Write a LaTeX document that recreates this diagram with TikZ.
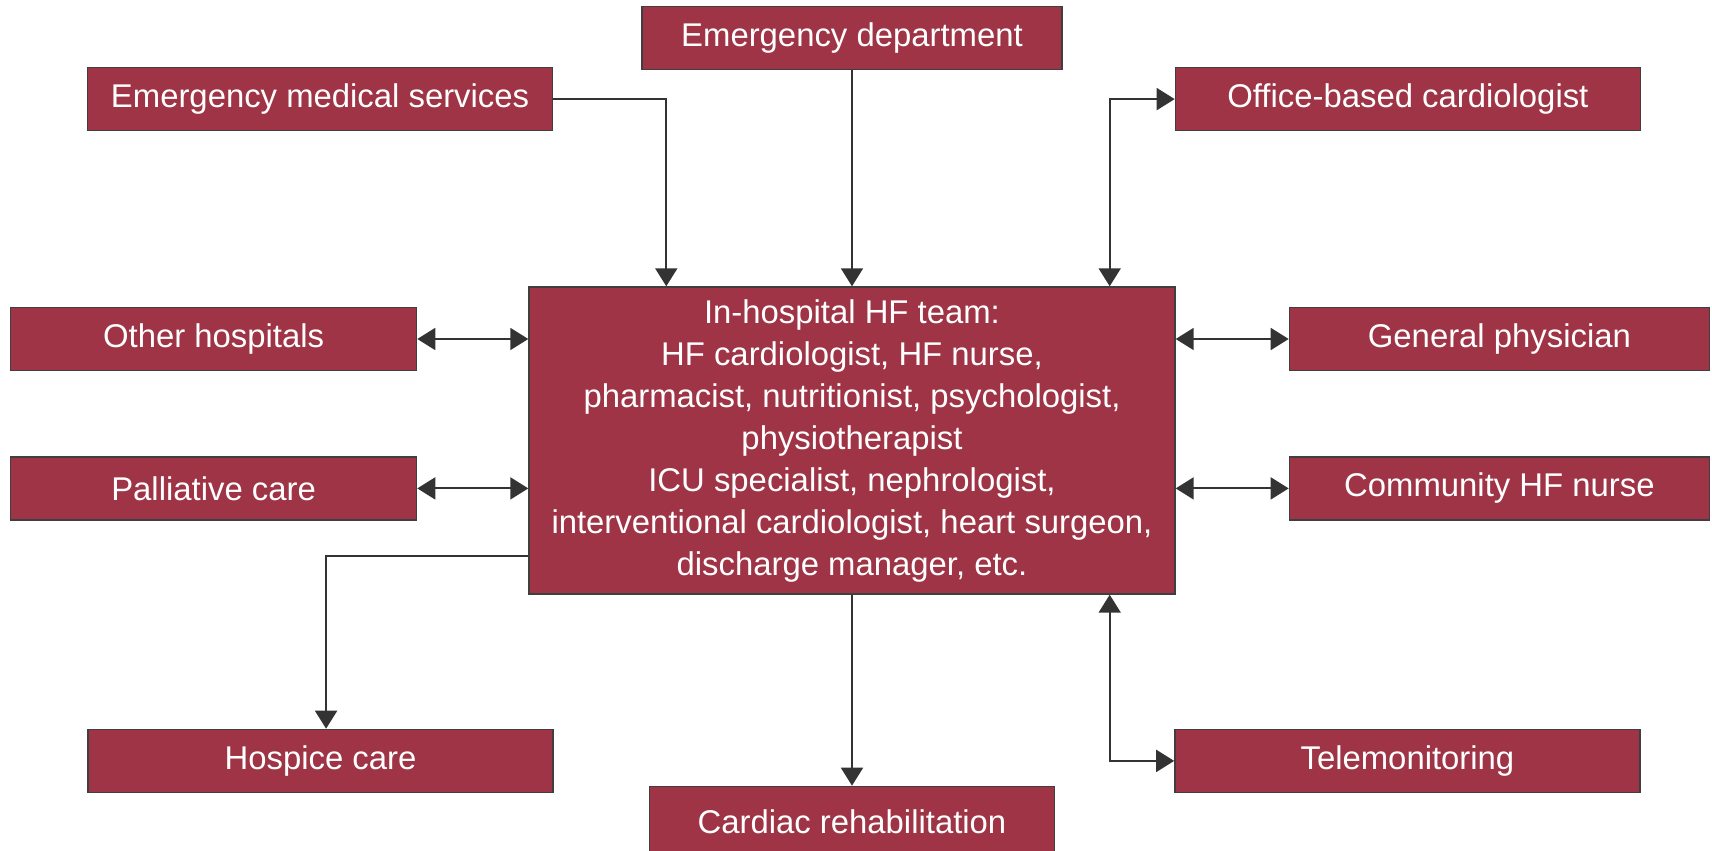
\documentclass[tikz,border=0pt]{standalone}
\usepackage{fontspec}
\setmainfont{Liberation Sans}
\usepackage{xcolor}
\usepackage{tikz}
\usetikzlibrary{positioning, arrows.meta}
\definecolor{boxred}{HTML}{9E3445}
\definecolor{boxline}{HTML}{3F3F3F}
\definecolor{arrowgray}{HTML}{333333}

\begin{document}
\begin{tikzpicture}[
        node distance=1cm,
        box/.style={rectangle, minimum height=1.26cm, inner sep=0pt, text centered, draw=boxline, line width=0.8pt, fill=boxred, text=white, font=\fontsize{18.7pt}{23.7pt}\selectfont},
        arrow/.style={line width=1.1pt, draw=arrowgray, -{Triangle[length=0.36cm, width=0.44cm]}},
        twoway/.style={line width=1.1pt, draw=arrowgray, {Triangle[length=0.36cm, width=0.44cm]}-{Triangle[length=0.36cm, width=0.44cm]}}
    ]
        \useasboundingbox (-17.04,-8.19) rectangle (17.20,8.81);

        % ===== HF team =====
        \node (team) [box, minimum width=12.92cm, minimum height=6.14cm, align=center, font=\fontsize{18.7pt}{23.9pt}\selectfont, text depth=0.12cm] {In-hospital HF team:\\HF cardiologist, HF nurse,\\pharmacist, nutritionist, psychologist,\\physiotherapist\\ICU specialist, nephrologist,\\interventional cardiologist, heart surgeon,\\discharge manager, etc.};

        % ===== top row =====
        \node (ed) [box, minimum width=8.4cm, above=4.32cm of team] {Emergency department};
        \node (ems) [box, minimum width=9.3cm, left=1.76cm of ed, yshift=-1.22cm] {Emergency medical services};
        \node (office) [box, minimum width=9.3cm, right=2.24cm of ed, yshift=-1.22cm] {Office-based cardiologist};

        % ===== sides =====
        \node (other) [box, minimum width=8.12cm, left=2.22cm of team, yshift=2.03cm] {Other hospitals};
        \node (palliative) [box, minimum width=8.12cm, below=1.7cm of other] {Palliative care};
        \node (general) [box, minimum width=8.4cm, right=2.26cm of team, yshift=2.03cm] {General physician};
        \node (community) [box, minimum width=8.4cm, below=1.7cm of general] {Community HF nurse};

        % ===== bottom row =====
        \node (rehab) [box, minimum width=8.1cm, minimum height=1.4cm, below=3.82cm of team] {Cardiac rehabilitation};
        \node (hospice) [box, minimum width=9.3cm, left=1.9cm of rehab, yshift=1.21cm] {Hospice care};
        \node (tele) [box, minimum width=9.3cm, right=2.38cm of rehab, yshift=1.21cm] {Telemonitoring};

        % ===== arrows =====
        % into the team
        \draw [arrow] (ems.east) -| ([xshift=2.76cm]team.north west);
        \draw [arrow] (ed.south) -- (team.north);
        \draw [twoway] (office.west) -| ([xshift=-1.32cm]team.north east);

        % both ways
        \draw [twoway] (other.east) -- (other.east -| team.west);
        \draw [twoway] (palliative.east) -- (palliative.east -| team.west);
        \draw [twoway] (general.west) -- (general.west -| team.east);
        \draw [twoway] (community.west) -- (community.west -| team.east);

        % out of the team
        \draw [arrow] ([yshift=0.78cm]team.south west) -| ([xshift=0.11cm]hospice.north);
        \draw [arrow] (team.south) -- (rehab.north);
        \draw [twoway] (tele.west) -| ([xshift=-1.32cm]team.south east);

    \end{tikzpicture}
\end{document}
